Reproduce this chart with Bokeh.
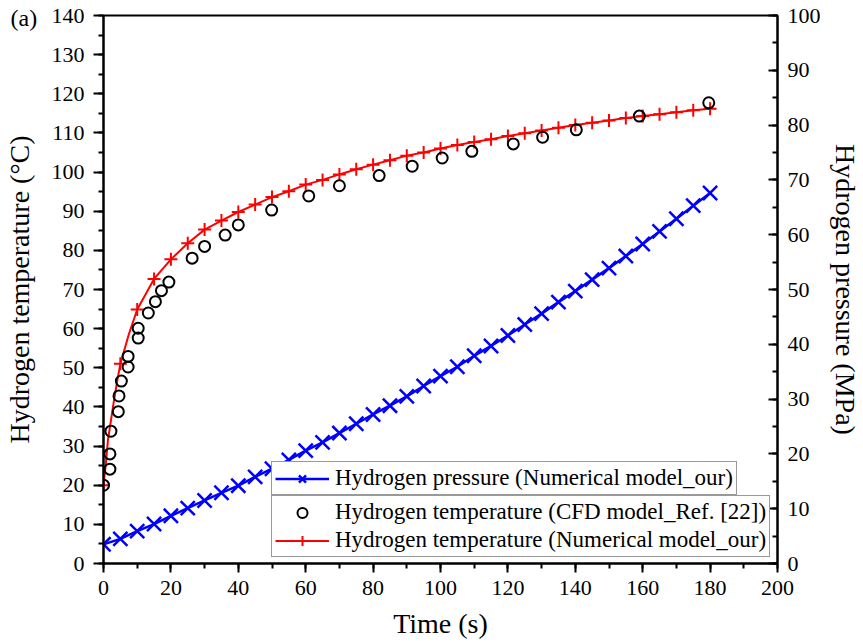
from bokeh.plotting import figure
from bokeh.models import Range1d, LinearAxis, SingleIntervalTicker, Legend, LegendItem
from bokeh.embed import file_html
from bokeh.resources import INLINE

FONT = "Liberation Serif"

# ---------------- data ----------------
# Hydrogen temperature, numerical model (markers every 5 s)
num_t = [0, 5, 10, 15, 20, 25, 30, 35, 40, 45, 50, 55, 60, 65, 70, 75, 80, 85, 90,
         95, 100, 105, 110, 115, 120, 125, 130, 135, 140, 145, 150, 155, 160, 165,
         170, 175, 180]
num_T = [20.0, 51.0, 64.9, 72.7, 77.7, 81.8, 85.3, 87.6, 89.8, 91.7, 93.6, 95.1, 96.8,
         98.0, 99.4, 100.7, 101.9, 103.0, 104.2, 105.0, 106.0, 106.9, 107.7, 108.4,
         109.2, 109.9, 110.6, 111.3, 112.0, 112.6, 113.2, 113.8, 114.3, 114.8, 115.3,
         115.8, 116.2]
# extra points of the numerical temperature curve in its steep start (line only)
num_early_t = [0.7, 1.3, 3.1, 4.1, 7.5]
num_early_T = [25.5, 31.4, 41.6, 46.8, 58.5]

# Hydrogen temperature, CFD model (Ref. [22])
cfd_t = [0, 1.9, 1.9, 2.2, 4.4, 4.6, 5.3, 7.3, 7.3, 10.3, 10.3, 13.3, 15.4, 17.2, 19.4,
         26.3, 30.0, 36.1, 40.0, 49.9, 60.9, 70.0, 81.8, 91.6, 100.5, 109.3, 121.6,
         130.3, 140.3, 159.0, 179.6]
cfd_T = [20.0, 24.1, 28.0, 33.8, 38.8, 42.8, 46.6, 50.2, 52.9, 57.6, 60.1, 64.0, 66.9,
         69.7, 71.9, 78.0, 81.0, 83.9, 86.5, 90.3, 93.9, 96.5, 99.1, 101.5, 103.6,
         105.3, 107.2, 108.9, 110.8, 114.3, 117.7]

# Hydrogen pressure, numerical model (MPa)
pres_t = [0, 5, 10, 15, 20, 25, 30, 35, 40, 45, 50, 55, 60, 65, 70, 75, 80, 85, 90,
          95, 100, 105, 110, 115, 120, 125, 130, 135, 140, 145, 150, 155, 160, 165,
          170, 175, 180]
pres_P = [3.5, 4.5, 5.9, 7.2, 8.7, 10.1, 11.5, 12.9, 14.2, 15.8, 17.3, 18.9, 20.6, 22.1,
          23.8, 25.5, 27.2, 28.8, 30.5, 32.4, 34.2, 35.9, 37.9, 39.7, 41.6, 43.6, 45.6,
          47.7, 49.7, 51.8, 53.9, 56.1, 58.3, 60.6, 62.9, 65.3, 67.6]

# line for the numerical temperature: markers + early curve points, sorted by time
line_pts = sorted(zip(num_t + num_early_t, num_T + num_early_T))
line_t = [a for a, b in line_pts]
line_T = [b for a, b in line_pts]

# ---------------- figure ----------------
p = figure(width=863, height=643, x_range=Range1d(0, 200), y_range=Range1d(0, 140),
           output_backend="svg", toolbar_location=None,
           min_border_left=103, min_border_right=82, min_border_top=15,
           min_border_bottom=80, background_fill_color="white",
           border_fill_color="white")
p.extra_y_ranges = {"press": Range1d(0, 100)}
p.grid.visible = False
p.outline_line_color = "black"
p.outline_line_width = 2

p.title.text = "(a)"
p.title.align = "left"
p.title.offset = -93
p.title.standoff = -30
p.title.text_font = FONT
p.title.text_font_size = "24px"
p.title.text_font_style = "normal"
p.title.text_color = "black"


def style_axis(ax):
    ax.axis_line_width = 2
    ax.axis_line_color = "black"
    ax.major_tick_line_width = 2
    ax.minor_tick_line_width = 2
    ax.major_tick_line_color = "black"
    ax.minor_tick_line_color = "black"
    ax.major_label_text_font = FONT
    ax.major_label_text_font_size = "22px"
    ax.major_label_text_font_style = "normal"
    ax.major_label_text_color = "black"
    ax.axis_label_text_font = FONT
    ax.axis_label_text_font_size = "28px"
    ax.axis_label_text_font_style = "normal"
    ax.axis_label_text_color = "black"


xa = p.xaxis[0]
style_axis(xa)
xa.ticker = SingleIntervalTicker(interval=20, num_minor_ticks=2)
xa.major_tick_out = 9
xa.major_tick_in = 0
xa.minor_tick_out = 5
xa.minor_tick_in = 0
xa.major_label_standoff = 8
xa.axis_label = "Time (s)"
xa.axis_label_standoff = 10

ya = p.yaxis[0]
style_axis(ya)
ya.ticker = SingleIntervalTicker(interval=10, num_minor_ticks=2)
ya.major_tick_out = 10
ya.major_tick_in = 0
ya.minor_tick_out = 5
ya.minor_tick_in = 0
ya.major_label_standoff = 9
ya.axis_label = "Hydrogen temperature (°C)"
ya.axis_label_standoff = 14

ra = LinearAxis(y_range_name="press")
style_axis(ra)
ra.ticker = SingleIntervalTicker(interval=10, num_minor_ticks=2)
ra.major_tick_out = 0
ra.major_tick_in = 9
ra.minor_tick_out = 0
ra.minor_tick_in = 5
ra.major_label_standoff = 10
ra.axis_label = "Hydrogen pressure (MPa)"
ra.axis_label_standoff = 6
p.add_layout(ra, "right")

# ---------------- glyphs ----------------
rl = p.line(line_t, line_T, line_color="red", line_width=2)
rs = p.scatter(num_t, num_T, marker="cross", size=13, line_color="red", line_width=2)
bl = p.line(pres_t, pres_P, y_range_name="press", line_color="blue", line_width=2.5)
bs = p.scatter(pres_t, pres_P, y_range_name="press", marker="x", size=20,
               line_color="blue", line_width=2.5)
cs = p.scatter(cfd_t, cfd_T, marker="circle", size=11, fill_color=None,
               line_color="black", line_width=2)


def style_legend(lg):
    lg.label_text_font = FONT
    lg.label_text_font_size = "23px"
    lg.label_text_color = "black"
    lg.glyph_width = 54
    lg.glyph_height = 25
    lg.label_height = 25
    lg.label_standoff = 6
    lg.padding = 3
    lg.spacing = 2
    lg.margin = 0
    lg.border_line_color = "#333333"
    lg.border_line_width = 1.5
    lg.background_fill_color = "white"
    lg.background_fill_alpha = 1


leg1 = Legend(items=[LegendItem(label="Hydrogen pressure (Numerical model_our)",
                                renderers=[bl, bs])], location=(168, 68))
leg2 = Legend(items=[LegendItem(label="Hydrogen temperature (CFD model_Ref. [22])",
                                renderers=[cs]),
                     LegendItem(label="Hydrogen temperature (Numerical model_our)",
                                renderers=[rl, rs])], location=(168, 6))
style_legend(leg1)
style_legend(leg2)
p.add_layout(leg1)
p.add_layout(leg2)

open("out.html", "w").write(file_html(p, INLINE))
